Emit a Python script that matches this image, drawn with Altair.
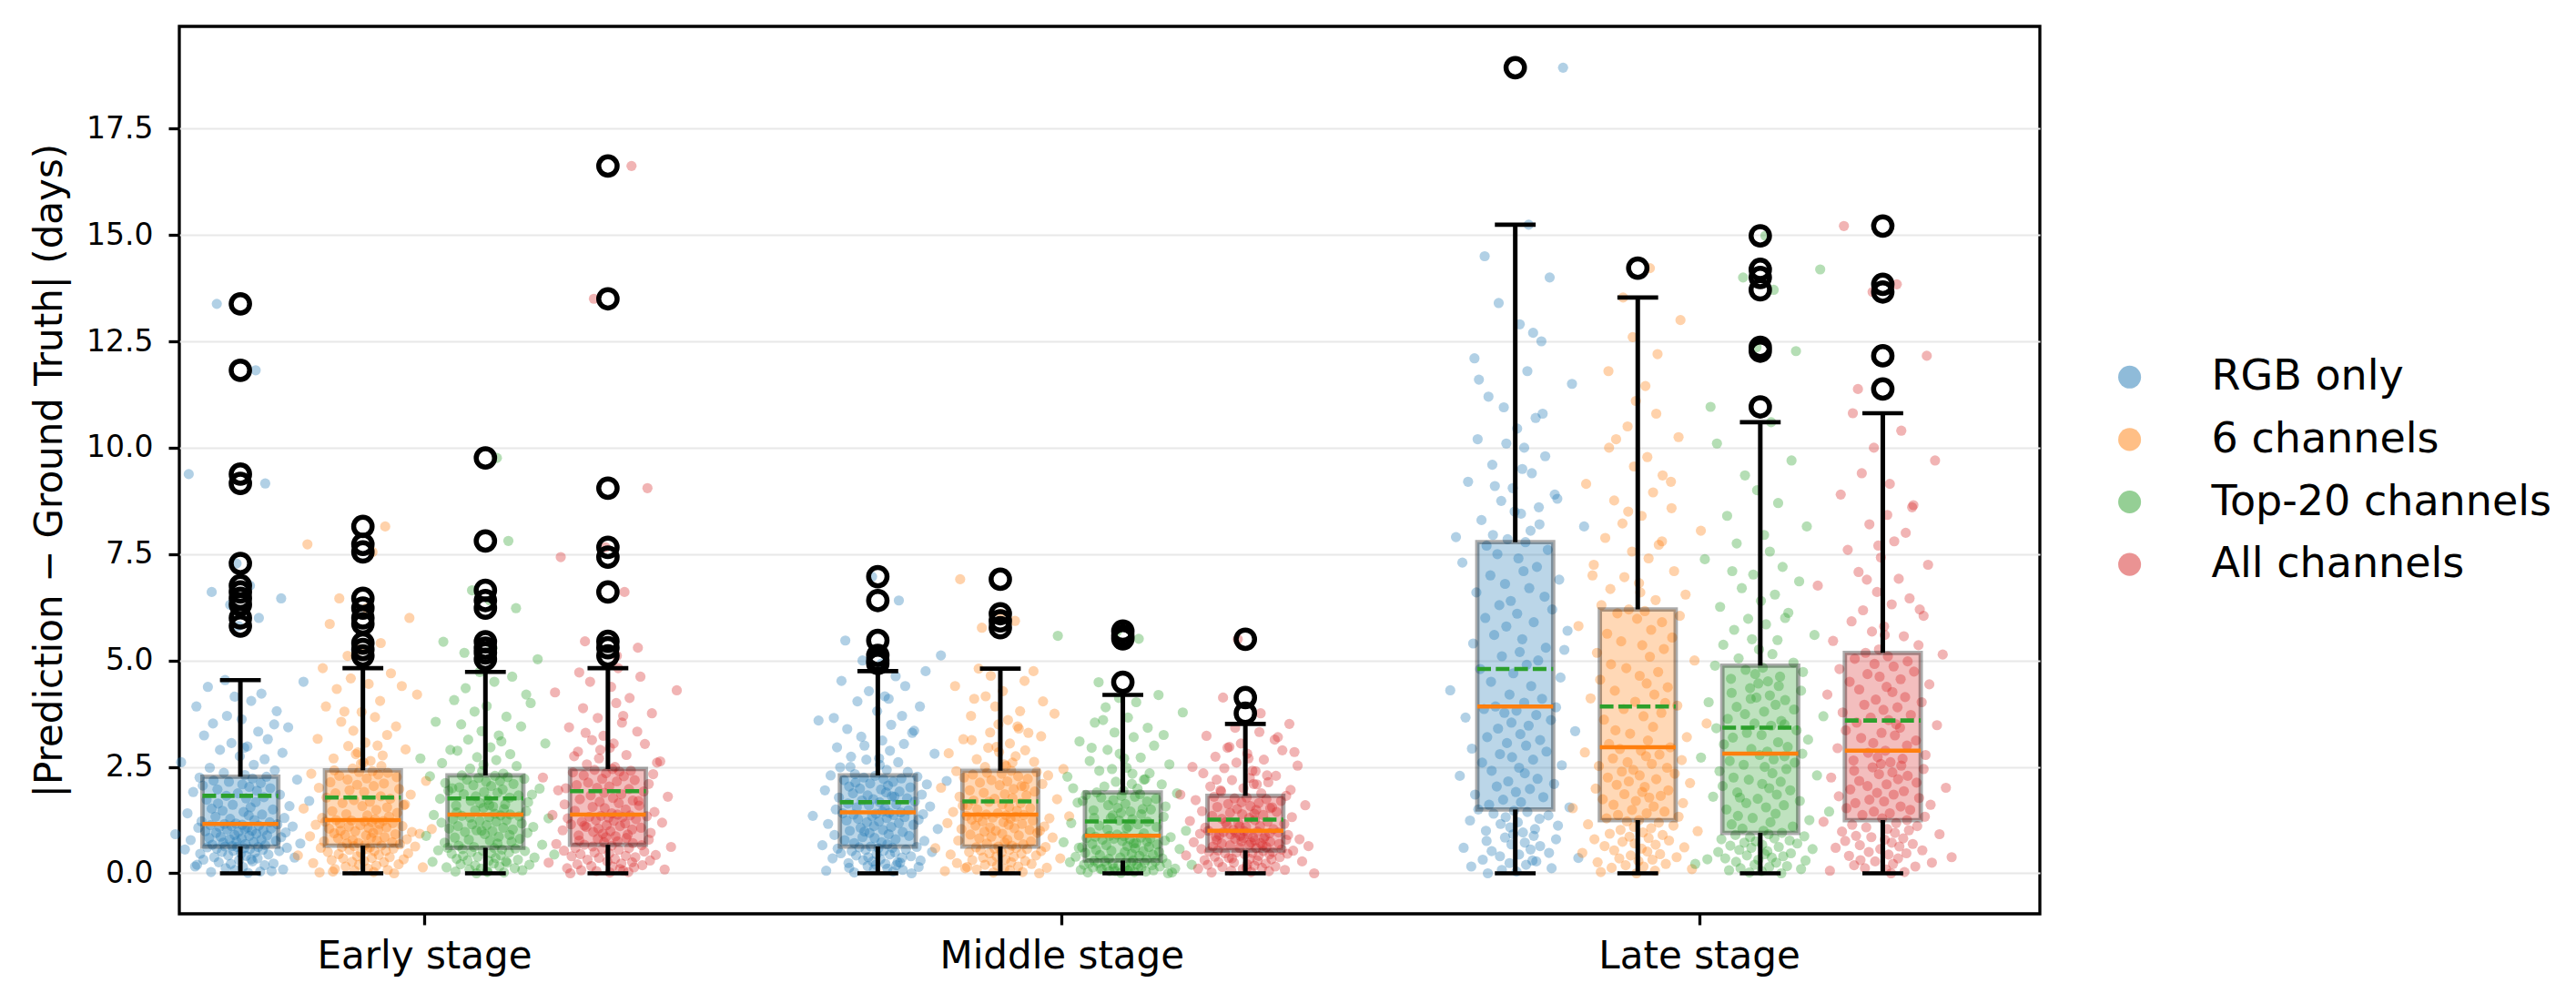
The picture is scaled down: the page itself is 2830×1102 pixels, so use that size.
import altair as alt
import pandas as pd

STAGES = ["Early stage", "Middle stage", "Late stage"]
SERIES = ["RGB only", "6 channels", "Top-20 channels", "All channels"]
COLORS = ["#1f77b4", "#ff7f0e", "#2ca02c", "#d62728"]

# box statistics: rows = stage, columns = series
Q1 = [[0.63, 0.65, 0.60, 0.67], [0.63, 0.63, 0.30, 0.54], [1.50, 1.25, 0.95, 1.25]]
MEDIAN = [[1.16, 1.25, 1.38, 1.38], [1.43, 1.38, 0.88, 1.00], [3.92, 2.96, 2.81, 2.88]]
Q3 = [[2.27, 2.42, 2.30, 2.45], [2.30, 2.41, 1.90, 1.82], [7.78, 6.20, 4.88, 5.18]]
WHISK_HI = [[4.54, 4.82, 4.73, 4.82], [4.75, 4.81, 4.19, 3.51], [15.24, 13.53, 10.60, 10.81]]
WHISK_LO = [[0.0, 0.0, 0.0, 0.0], [0.0, 0.0, 0.0, 0.0], [0.0, 0.0, 0.0, 0.0]]
MEAN = [[1.82, 1.78, 1.76, 1.93], [1.67, 1.69, 1.22, 1.26], [4.80, 3.92, 3.42, 3.59]]

# outliers (fliers)
EARLY_RGB_OUT = [13.38, 11.82, 9.38, 9.16, 7.28, 6.76, 6.61, 6.46, 6.31, 6.0, 5.81]
EARLY_6CH_OUT = [8.15, 7.73, 7.55, 6.46, 6.23, 6.0, 5.86, 5.41, 5.26, 5.11]
EARLY_TOP20_OUT = [9.76, 7.81, 6.65, 6.41, 6.23, 5.44, 5.29, 5.18, 5.03]
EARLY_ALL_OUT = [16.62, 13.5, 9.05, 7.66, 7.43, 6.61, 5.45, 5.30, 5.11]
MIDDLE_RGB_OUT = [6.97, 6.41, 5.47, 5.12, 5.0, 4.93]
MIDDLE_6CH_OUT = [6.91, 6.10, 5.93, 5.77]
MIDDLE_TOP20_OUT = [5.69, 5.58, 5.51, 4.49]
MIDDLE_ALL_OUT = [5.50, 4.13, 3.76]
LATE_RGB_OUT = [18.93]
LATE_6CH_OUT = [14.22]
LATE_TOP20_OUT = [14.98, 14.19, 14.0, 13.71, 12.36, 12.27, 10.96]
LATE_ALL_OUT = [15.21, 13.84, 13.66, 12.16, 11.38]

# individual (non-outlier) absolute errors
EARLY_RGB = [0.01,0.03,0.04,0.08,0.09,0.12,0.15,0.16,0.19,0.22,0.23,0.26,0.28,0.31,0.32,0.35,0.37,0.38,0.41,0.42,
    0.44,0.46,0.47,0.49,0.5,0.52,0.53,0.55,0.56,0.57,0.58,0.59,0.6,0.61,0.62,0.62,0.63,0.05,0.2,0.33,
    0.64,0.66,0.67,0.69,0.7,0.72,0.73,0.75,0.76,0.78,0.79,0.8,0.82,0.83,0.85,0.86,0.88,0.89,0.9,0.92,
    0.93,0.95,0.96,0.97,0.99,1.0,1.01,1.03,1.04,1.05,1.07,1.08,1.09,1.1,1.11,1.12,1.13,1.14,1.15,1.16,
    1.17,1.2,1.22,1.25,1.28,1.3,1.33,1.36,1.38,1.41,1.44,1.47,1.5,1.52,1.55,1.58,1.61,1.64,1.67,1.7,
    1.73,1.76,1.79,1.82,1.85,1.88,1.91,1.94,1.97,2.0,2.03,2.06,2.09,2.12,2.15,2.18,2.2,2.23,2.25,2.27,
    2.31,2.36,2.42,2.48,2.55,2.61,2.68,2.75,2.83,2.9,2.98,3.06,3.15,3.24,3.33,3.43,3.52,3.62,3.7,3.81,
    3.92,4.05,4.15,4.22,4.38,4.5,4.54,2.95,3.5]
EARLY_6CH = [0.0,0.02,0.03,0.06,0.08,0.1,0.11,0.14,0.16,0.18,0.2,0.21,0.24,0.26,0.27,0.29,0.31,0.33,0.35,0.36,
    0.38,0.4,0.42,0.43,0.45,0.47,0.48,0.5,0.52,0.53,0.55,0.57,0.58,0.6,0.61,0.62,0.63,0.64,0.65,0.04,
    0.66,0.68,0.7,0.71,0.73,0.75,0.77,0.78,0.8,0.82,0.84,0.85,0.87,0.89,0.9,0.92,0.94,0.95,0.97,0.99,
    1.0,1.02,1.04,1.05,1.07,1.08,1.1,1.11,1.13,1.14,1.16,1.17,1.18,1.2,1.21,1.22,1.23,1.24,1.25,0.93,
    1.27,1.3,1.33,1.36,1.39,1.42,1.46,1.49,1.52,1.55,1.58,1.62,1.65,1.68,1.72,1.75,1.78,1.81,1.85,1.88,
    1.91,1.95,1.98,2.01,2.05,2.08,2.11,2.14,2.17,2.2,2.23,2.26,2.29,2.32,2.34,2.36,2.38,2.4,2.42,1.6,
    2.46,2.52,2.58,2.64,2.7,2.77,2.84,2.91,2.99,3.07,3.16,3.25,3.35,3.45,3.56,3.67,3.79,3.92,4.05,4.2,
    4.33,4.45,4.58,4.7,4.82,2.6,3.0,3.8,4.4,2.8]
EARLY_TOP20 = [0.0,0.02,0.04,0.05,0.07,0.09,0.11,0.12,0.14,0.16,0.18,0.2,0.21,0.23,0.25,0.27,0.29,0.3,0.32,0.34,
    0.36,0.37,0.39,0.41,0.42,0.44,0.46,0.47,0.49,0.5,0.52,0.53,0.54,0.56,0.57,0.58,0.59,0.6,0.03,0.28,
    0.62,0.65,0.67,0.7,0.72,0.74,0.77,0.79,0.81,0.84,0.86,0.88,0.9,0.92,0.95,0.97,0.99,1.01,1.03,1.05,
    1.07,1.09,1.11,1.13,1.15,1.17,1.19,1.21,1.23,1.25,1.27,1.29,1.31,1.32,1.34,1.35,1.36,1.37,1.38,1.0,
    1.4,1.43,1.46,1.48,1.51,1.54,1.57,1.59,1.62,1.65,1.67,1.7,1.73,1.75,1.78,1.81,1.83,1.86,1.89,1.91,
    1.94,1.97,1.99,2.02,2.05,2.07,2.1,2.12,2.15,2.17,2.2,2.22,2.24,2.26,2.28,2.29,2.3,1.6,1.85,2.0,
    2.34,2.4,2.46,2.52,2.59,2.66,2.73,2.8,2.88,2.96,3.05,3.14,3.24,3.34,3.45,3.56,3.68,3.8,3.93,4.07,
    4.2,4.35,4.5,4.62,4.73,2.7,3.1,3.5,4.0,2.55,2.9]
EARLY_ALL = [0.0,0.02,0.03,0.05,0.07,0.09,0.1,0.12,0.14,0.16,0.17,0.19,0.21,0.23,0.25,0.26,0.28,0.3,0.32,0.34,
    0.36,0.38,0.4,0.41,0.43,0.45,0.47,0.49,0.51,0.53,0.55,0.57,0.59,0.6,0.62,0.63,0.65,0.66,0.67,0.06,
    0.69,0.71,0.73,0.75,0.77,0.79,0.81,0.83,0.85,0.87,0.89,0.91,0.93,0.95,0.97,0.99,1.01,1.03,1.05,1.07,
    1.09,1.11,1.13,1.15,1.17,1.19,1.21,1.23,1.25,1.27,1.29,1.31,1.32,1.33,1.34,1.35,1.36,1.37,1.38,1.12,
    1.41,1.44,1.47,1.5,1.53,1.56,1.59,1.62,1.65,1.68,1.71,1.74,1.77,1.8,1.83,1.86,1.89,1.92,1.95,1.98,
    2.01,2.04,2.07,2.1,2.13,2.16,2.19,2.22,2.25,2.28,2.3,2.33,2.35,2.37,2.39,2.41,2.43,2.45,1.7,2.0,
    2.5,2.56,2.63,2.7,2.78,2.86,2.95,3.04,3.13,3.23,3.33,3.43,3.54,3.65,3.76,3.88,4.0,4.12,4.25,4.38,
    4.5,4.62,4.72,4.82,2.6,2.9,3.3,3.7,4.3,2.75,3.05]
MIDDLE_RGB = [0.0,0.02,0.04,0.06,0.08,0.09,0.11,0.13,0.15,0.17,0.19,0.2,0.22,0.24,0.26,0.28,0.3,0.31,0.33,0.35,
    0.37,0.38,0.4,0.42,0.44,0.45,0.47,0.49,0.5,0.52,0.53,0.55,0.56,0.58,0.59,0.6,0.61,0.62,0.63,0.25,
    0.66,0.68,0.71,0.73,0.76,0.78,0.8,0.83,0.85,0.88,0.9,0.92,0.95,0.97,1.0,1.02,1.04,1.07,1.09,1.11,
    1.14,1.16,1.18,1.2,1.22,1.24,1.26,1.28,1.3,1.32,1.34,1.35,1.37,1.38,1.39,1.4,1.41,1.42,1.43,0.98,
    1.45,1.48,1.5,1.53,1.55,1.57,1.6,1.62,1.64,1.67,1.69,1.71,1.74,1.76,1.78,1.81,1.83,1.85,1.88,1.9,
    1.92,1.95,1.97,1.99,2.02,2.04,2.06,2.09,2.11,2.13,2.15,2.17,2.19,2.21,2.23,2.25,2.27,2.29,2.3,1.8,
    2.33,2.38,2.43,2.49,2.55,2.61,2.67,2.74,2.81,2.88,2.96,3.04,3.12,3.21,3.3,3.39,3.49,3.59,3.7,3.81,
    3.92,4.04,4.16,4.28,4.4,4.52,4.63,4.75,2.5,2.7,3.0,3.35,3.65,4.1]
MIDDLE_6CH = [0.0,0.02,0.03,0.05,0.07,0.09,0.11,0.13,0.15,0.16,0.18,0.2,0.22,0.24,0.26,0.28,0.29,0.31,0.33,0.35,
    0.37,0.39,0.4,0.42,0.44,0.46,0.47,0.49,0.5,0.52,0.54,0.55,0.57,0.58,0.59,0.6,0.61,0.62,0.63,0.12,
    0.65,0.68,0.7,0.72,0.75,0.77,0.79,0.82,0.84,0.86,0.89,0.91,0.93,0.95,0.98,1.0,1.02,1.04,1.06,1.08,
    1.1,1.12,1.14,1.16,1.18,1.2,1.22,1.24,1.26,1.28,1.29,1.31,1.32,1.33,1.34,1.35,1.36,1.37,1.38,1.0,
    1.41,1.44,1.47,1.5,1.53,1.56,1.59,1.62,1.65,1.68,1.71,1.74,1.77,1.8,1.83,1.86,1.89,1.92,1.95,1.98,
    2.01,2.04,2.07,2.1,2.13,2.16,2.19,2.22,2.25,2.28,2.3,2.32,2.34,2.36,2.38,2.4,2.41,1.75,2.05,1.6,
    2.45,2.5,2.56,2.62,2.68,2.75,2.82,2.89,2.97,3.05,3.13,3.22,3.31,3.4,3.5,3.6,3.7,3.81,3.92,4.04,
    4.16,4.28,4.4,4.52,4.64,4.75,4.81,2.6,2.85,3.15,3.45,3.75,4.1,2.52,2.95,3.3]
MIDDLE_TOP20 = [0.0,0.01,0.02,0.03,0.04,0.05,0.06,0.07,0.08,0.09,0.1,0.11,0.12,0.13,0.14,0.15,0.16,0.17,0.18,0.19,
    0.2,0.21,0.22,0.23,0.24,0.25,0.25,0.26,0.27,0.28,0.28,0.29,0.3,0.02,0.05,0.1,0.15,0.2,0.24,0.06,
    0.32,0.34,0.35,0.37,0.39,0.41,0.43,0.44,0.46,0.48,0.5,0.52,0.53,0.55,0.57,0.59,0.61,0.62,0.64,0.66,
    0.68,0.69,0.71,0.73,0.74,0.76,0.77,0.79,0.8,0.81,0.82,0.83,0.84,0.85,0.86,0.87,0.88,0.5,0.6,0.7,
    0.91,0.94,0.97,1.0,1.03,1.06,1.09,1.12,1.15,1.18,1.21,1.24,1.27,1.3,1.33,1.36,1.39,1.42,1.45,1.48,
    1.51,1.54,1.57,1.6,1.63,1.66,1.69,1.72,1.75,1.78,1.8,1.82,1.84,1.86,1.88,1.9,1.1,1.3,1.5,1.7,
    1.94,1.99,2.04,2.09,2.15,2.21,2.27,2.34,2.41,2.48,2.56,2.64,2.72,2.81,2.9,3.0,3.1,3.2,3.31,3.42,
    3.54,3.66,3.78,3.9,4.02,4.12,4.19,2.0,2.2,2.45,2.7,2.95,3.25,3.6,2.1,2.35]
MIDDLE_ALL = [0.0,0.02,0.03,0.05,0.06,0.08,0.1,0.11,0.13,0.15,0.16,0.18,0.2,0.21,0.23,0.25,0.26,0.28,0.3,0.31,
    0.33,0.34,0.36,0.38,0.39,0.41,0.42,0.44,0.45,0.46,0.47,0.48,0.49,0.5,0.51,0.52,0.53,0.54,0.12,0.35,
    0.56,0.57,0.59,0.6,0.62,0.63,0.64,0.66,0.67,0.69,0.7,0.71,0.73,0.74,0.75,0.77,0.78,0.79,0.81,0.82,
    0.83,0.85,0.86,0.87,0.88,0.9,0.91,0.92,0.93,0.94,0.95,0.96,0.97,0.98,0.99,1.0,0.65,0.8,0.9,0.72,
    1.02,1.04,1.07,1.09,1.11,1.14,1.16,1.18,1.21,1.23,1.25,1.28,1.3,1.32,1.35,1.37,1.39,1.42,1.44,1.46,
    1.49,1.51,1.53,1.56,1.58,1.6,1.63,1.65,1.67,1.7,1.72,1.74,1.76,1.78,1.8,1.82,1.2,1.4,1.55,1.1,
    1.85,1.88,1.92,1.96,2.0,2.04,2.09,2.14,2.19,2.24,2.29,2.35,2.41,2.47,2.53,2.6,2.67,2.74,2.81,2.89,
    2.97,3.05,3.14,3.23,3.32,3.42,3.51,1.95,2.1,2.3,2.5,2.7,2.95,3.2,2.2,2.4,2.85]
LATE_RGB = [0.0,0.04,0.08,0.12,0.16,0.2,0.24,0.28,0.32,0.36,0.4,0.44,0.48,0.52,0.56,0.6,0.64,0.68,0.72,0.76,
    0.8,0.84,0.88,0.92,0.96,1.0,1.04,1.08,1.12,1.16,1.2,1.24,1.28,1.32,1.36,1.4,1.44,1.47,1.5,0.3,
    1.55,1.61,1.67,1.73,1.79,1.85,1.91,1.98,2.04,2.1,2.16,2.22,2.29,2.35,2.41,2.48,2.54,2.6,2.67,2.73,
    2.8,2.86,2.93,3.0,3.06,3.13,3.2,3.27,3.34,3.4,3.47,3.54,3.6,3.66,3.72,3.77,3.82,3.86,3.9,3.92,
    4.01,4.1,4.2,4.3,4.4,4.5,4.6,4.7,4.8,4.9,5.0,5.1,5.2,5.3,5.4,5.5,5.6,5.7,5.8,5.9,
    6.0,6.1,6.2,6.3,6.4,6.5,6.6,6.7,6.8,6.9,7.0,7.1,7.2,7.3,7.4,7.5,7.6,7.7,7.78,5.25,
    7.85,7.95,8.05,8.15,8.3,8.45,8.6,8.75,8.9,9.05,9.2,9.4,9.6,9.8,10.0,10.2,10.45,10.7,10.95,11.2,
    11.5,11.8,12.1,12.5,12.9,13.4,14.0,14.5,15.24,7.9,8.2,8.5,8.8,9.1,9.5,10.1,10.8,11.6,12.7]
LATE_6CH = [0.0,0.03,0.06,0.1,0.13,0.16,0.19,0.22,0.26,0.29,0.32,0.35,0.38,0.42,0.45,0.48,0.51,0.54,0.58,0.61,
    0.64,0.67,0.7,0.74,0.77,0.8,0.83,0.86,0.9,0.93,0.96,0.99,1.02,1.06,1.09,1.12,1.15,1.19,1.22,1.25,
    1.29,1.33,1.37,1.41,1.45,1.49,1.53,1.57,1.61,1.65,1.7,1.74,1.78,1.82,1.86,1.91,1.95,1.99,2.03,2.08,
    2.12,2.16,2.21,2.25,2.3,2.34,2.39,2.43,2.48,2.52,2.57,2.61,2.66,2.7,2.75,2.79,2.84,2.88,2.92,2.96,
    3.04,3.12,3.2,3.28,3.36,3.44,3.52,3.61,3.69,3.77,3.86,3.94,4.03,4.11,4.2,4.29,4.37,4.46,4.55,4.64,
    4.73,4.82,4.91,5.0,5.09,5.18,5.27,5.36,5.45,5.54,5.63,5.72,5.81,5.9,5.98,6.05,6.11,6.16,6.2,4.0,
    6.3,6.42,6.55,6.68,6.82,6.96,7.1,7.25,7.4,7.56,7.72,7.88,8.05,8.22,8.4,8.58,8.76,8.95,9.15,9.35,
    9.56,9.78,10.0,10.25,10.5,10.8,11.1,11.45,11.8,12.2,12.6,13.0,13.53,6.6,7.0,7.8,8.5,9.2,10.2]
LATE_TOP20 = [0.0,0.02,0.05,0.07,0.1,0.12,0.15,0.17,0.2,0.22,0.25,0.27,0.3,0.32,0.35,0.37,0.4,0.42,0.45,0.47,
    0.5,0.52,0.55,0.57,0.6,0.62,0.65,0.67,0.7,0.72,0.75,0.77,0.8,0.82,0.85,0.87,0.9,0.92,0.95,0.33,
    1.0,1.05,1.1,1.15,1.2,1.25,1.3,1.35,1.4,1.45,1.5,1.55,1.6,1.65,1.7,1.75,1.8,1.85,1.9,1.95,
    2.0,2.05,2.1,2.15,2.2,2.25,2.3,2.35,2.4,2.45,2.5,2.55,2.6,2.64,2.68,2.72,2.75,2.78,2.81,1.78,
    2.86,2.92,2.97,3.03,3.08,3.14,3.19,3.25,3.3,3.36,3.41,3.47,3.52,3.58,3.63,3.69,3.74,3.8,3.85,3.91,
    3.96,4.02,4.07,4.13,4.18,4.24,4.29,4.35,4.4,4.46,4.51,4.57,4.62,4.68,4.73,4.78,4.83,4.88,3.5,4.1,
    4.95,5.05,5.15,5.26,5.37,5.48,5.6,5.72,5.85,5.98,6.12,6.26,6.4,6.55,6.7,6.86,7.02,7.2,7.38,7.56,
    7.75,7.95,8.15,8.4,8.7,9.0,9.35,9.7,10.1,10.6,5.5,6.0,7.1]
LATE_ALL = [0.0,0.03,0.06,0.09,0.12,0.16,0.19,0.22,0.25,0.28,0.31,0.35,0.38,0.41,0.44,0.47,0.5,0.54,0.57,0.6,
    0.63,0.66,0.69,0.72,0.76,0.79,0.82,0.85,0.88,0.92,0.95,0.98,1.01,1.04,1.08,1.11,1.14,1.18,1.21,1.25,
    1.29,1.33,1.37,1.41,1.45,1.49,1.53,1.57,1.61,1.65,1.69,1.73,1.77,1.81,1.85,1.89,1.93,1.97,2.01,2.05,
    2.09,2.13,2.17,2.21,2.25,2.29,2.33,2.37,2.41,2.45,2.49,2.53,2.57,2.61,2.65,2.69,2.73,2.78,2.83,2.88,
    2.94,3.0,3.06,3.12,3.18,3.24,3.3,3.36,3.42,3.48,3.54,3.6,3.66,3.72,3.78,3.84,3.9,3.96,4.02,4.08,
    4.14,4.2,4.26,4.32,4.38,4.44,4.5,4.56,4.62,4.68,4.74,4.8,4.86,4.92,4.98,5.04,5.1,5.14,5.18,3.5,
    5.26,5.36,5.46,5.57,5.68,5.8,5.92,6.05,6.18,6.32,6.46,6.61,6.76,6.92,7.08,7.25,7.42,7.6,7.8,8.0,
    8.2,8.42,8.65,8.9,9.15,9.4,9.7,10.0,10.4,10.81,5.6,6.2,6.9,7.7,8.6]

# horizontal scatter offsets of the individual samples (x-axis units)
JITTER = [0.012,-0.046,0.031,-0.008,0.067,-0.023,0.004,-0.071,0.038,-0.015,0.052,-0.034,0.019,-0.002,-0.058,0.027,0.085,-0.041,0.009,-0.019,
    0.044,-0.063,0.001,0.023,-0.029,0.061,-0.011,0.035,-0.087,0.015,-0.037,0.006,0.073,-0.052,0.028,-0.005,-0.024,0.049,-0.068,0.017,
    -0.013,0.039,-0.044,0.008,0.094,-0.027,0.021,-0.006,0.056,-0.078,0.033,-0.017,0.002,-0.049,0.064,-0.031,0.014,0.042,-0.009,-0.102,
    0.025,-0.038,0.071,-0.003,-0.055,0.018,0.036,-0.021,0.007,0.048,-0.066,0.011,-0.033,0.082,-0.014,0.029,-0.047,0.003,0.058,-0.025,
    -0.007,0.046,-0.061,0.022,-0.016,0.069,-0.039,0.013,0.034,-0.083,0.005,-0.028,0.051,-0.045,0.016,0.077,-0.012,-0.035,0.024,0.108,
    -0.053,0.009,0.037,-0.022,0.062,-0.004,-0.074,0.026,-0.036,0.047,0.014,-0.059,0.003,0.032,-0.018,-0.042,0.089,0.019,-0.064,0.041,
    0.007,-0.026,0.054,-0.048,0.021,-0.093,0.038,-0.001,0.066,-0.032,0.011,-0.014,0.043,-0.057,0.028,0.075,-0.043,0.002,-0.021,0.057,
    -0.069,0.017,-0.009,0.033,-0.051,0.099,-0.024,0.006,0.053,-0.037,0.024,-0.081,0.039,-0.006,0.015,-0.045,0.064,-0.016,0.029,-0.003]

POINTS = [[EARLY_RGB, EARLY_6CH, EARLY_TOP20, EARLY_ALL],
          [MIDDLE_RGB, MIDDLE_6CH, MIDDLE_TOP20, MIDDLE_ALL],
          [LATE_RGB, LATE_6CH, LATE_TOP20, LATE_ALL]]
OUTS = [[EARLY_RGB_OUT, EARLY_6CH_OUT, EARLY_TOP20_OUT, EARLY_ALL_OUT],
        [MIDDLE_RGB_OUT, MIDDLE_6CH_OUT, MIDDLE_TOP20_OUT, MIDDLE_ALL_OUT],
        [LATE_RGB_OUT, LATE_6CH_OUT, LATE_TOP20_OUT, LATE_ALL_OUT]]

# layout (x-axis units)
OFFSETS = [-0.2883, -0.0961, 0.0961, 0.2883]
BOX_HALF = 0.0595
CAP_HALF = 0.032

pts, boxes, whisk, caps, fliers = [], [], [], [], []
for s, stage in enumerate(STAGES):
    for k, ser in enumerate(SERIES):
        b = s * 4 + k
        xc = s + OFFSETS[k]
        vals = POINTS[s][k] + OUTS[s][k]
        for i, v in enumerate(vals):
            j = JITTER[(i + b * 37) % len(JITTER)]
            pts.append({"x": xc + j, "y": v, "series": ser})
        boxes.append({"x": xc - BOX_HALF, "x2": xc + BOX_HALF, "y": Q1[s][k], "y2": Q3[s][k],
                      "med": MEDIAN[s][k], "mean": MEAN[s][k], "hex": COLORS[k]})
        whisk.append({"x": xc, "y": Q3[s][k], "y2": WHISK_HI[s][k]})
        whisk.append({"x": xc, "y": WHISK_LO[s][k], "y2": Q1[s][k]})
        caps.append({"x": xc - CAP_HALF, "x2": xc + CAP_HALF, "y": WHISK_HI[s][k]})
        caps.append({"x": xc - CAP_HALF, "x2": xc + CAP_HALF, "y": WHISK_LO[s][k]})
        for v in OUTS[s][k]:
            fliers.append({"x": xc, "y": v})

pts = pd.DataFrame(pts)
boxes = pd.DataFrame(boxes)
whisk = pd.DataFrame(whisk)
caps = pd.DataFrame(caps)
fliers = pd.DataFrame(fliers)

FONT = "DejaVu Sans"
xs = alt.Scale(domain=[-0.3841, 2.5347], nice=False, zero=False)
ys = alt.Scale(domain=[-0.952, 19.90], nice=False, zero=False)
label_expr = "['Early stage', 'Middle stage', 'Late stage'][datum.value]"
xax = alt.Axis(values=[0, 1, 2], labelExpr=label_expr, title=None, grid=False, domain=False,
               tickSize=12, tickWidth=3.3, tickColor="black", labelFontSize=42, labelColor="black",
               labelPadding=14, labelFont=FONT, labelLimit=800)
yax = alt.Axis(values=[0, 2.5, 5, 7.5, 10, 12.5, 15, 17.5], format=".1f",
               title="|Prediction \u2212 Ground Truth| (days)", grid=True, gridColor="#e8e8e8",
               gridWidth=2, domain=False, tickSize=12, tickWidth=3.3, tickColor="black",
               labelFontSize=33, labelColor="black", labelPadding=17, labelFont=FONT,
               titleFontSize=42, titleFontWeight="normal", titleColor="black", titleFont=FONT,
               titlePadding=18)

X = lambda f: alt.X(f, type="quantitative", scale=xs, axis=xax)
Y = lambda f: alt.Y(f, type="quantitative", scale=ys, axis=yax)

points = alt.Chart(pts).mark_circle(size=125, opacity=0.35).encode(
    x=X("x"), y=Y("y"),
    color=alt.Color("series:N", scale=alt.Scale(domain=SERIES, range=COLORS),
                    legend=alt.Legend(title=None, orient="none", legendX=2119.6, legendY=362.3,
                                      symbolType="circle", symbolSize=629, symbolOpacity=0.5,
                                      symbolStrokeWidth=0, labelFontSize=46, labelOffset=67,
                                      rowPadding=22.6, padding=0, labelFont=FONT,
                                      labelColor="black", labelLimit=800)))

box = alt.Chart(boxes).mark_rect(fillOpacity=0.3, stroke="black", strokeOpacity=0.33,
                                 strokeWidth=4.8).encode(
    x=X("x"), x2="x2", y=Y("y"), y2="y2", fill=alt.Fill("hex:N", scale=None))

whiskers = alt.Chart(whisk).mark_rule(color="black", strokeWidth=5).encode(
    x=X("x"), y=Y("y"), y2="y2")

capm = alt.Chart(caps).mark_rule(color="black", strokeWidth=4.6).encode(
    x=X("x"), x2="x2", y=Y("y"))

median = alt.Chart(boxes).mark_rule(color="#ff7f0e", strokeWidth=4.5).encode(
    x=X("x"), x2="x2", y=Y("med"))

mean = alt.Chart(boxes).mark_rule(color="#2ca02c", strokeWidth=4.6, strokeDash=[15, 5.3]).encode(
    x=X("x"), x2="x2", y=Y("mean"))

flier = alt.Chart(fliers).mark_point(shape="circle", filled=False, color="black", opacity=1,
                                     strokeWidth=5.5, size=410).encode(x=X("x"), y=Y("y"))

chart = alt.layer(points, box, whiskers, capm, median, mean, flier).properties(
    width=2044, height=975,
    autosize=alt.AutoSizeParams(type="none"),
    padding={"left": 189, "top": 21, "right": 581, "bottom": 80},
).configure(
    font=FONT,
    view=alt.ViewConfig(stroke="black", strokeWidth=3.3),
)

chart.save("out.html", embed_options={"renderer": "svg", "actions": False})
